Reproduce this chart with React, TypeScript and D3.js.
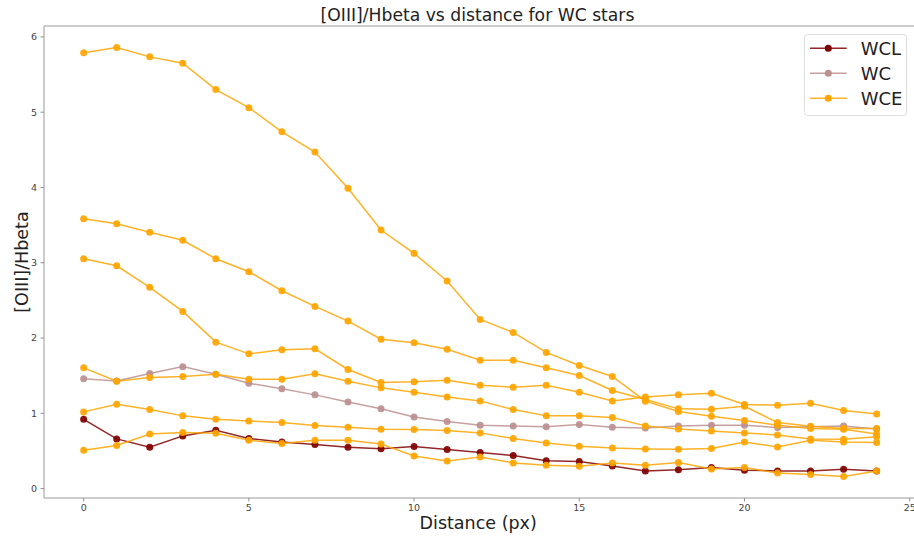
import React from "react";
import * as d3 from "d3";

const distance = [0, 1, 2, 3, 4, 5, 6, 7, 8, 9, 10, 11, 12, 13, 14, 15, 16, 17, 18, 19, 20, 21, 22, 23, 24];

const wcl = [0.92, 0.66, 0.55, 0.70, 0.775, 0.665, 0.62, 0.585, 0.55, 0.53, 0.56, 0.52, 0.48, 0.44, 0.37, 0.36, 0.30, 0.235, 0.25, 0.28, 0.245, 0.235, 0.235, 0.257, 0.235];
const wc = [1.46, 1.43, 1.53, 1.62, 1.52, 1.40, 1.325, 1.245, 1.15, 1.06, 0.95, 0.89, 0.84, 0.83, 0.82, 0.85, 0.815, 0.806, 0.833, 0.842, 0.842, 0.811, 0.82, 0.833, 0.79];

const wceA = [5.79, 5.86, 5.735, 5.65, 5.30, 5.06, 4.74, 4.47, 3.99, 3.435, 3.125, 2.757, 2.247, 2.074, 1.809, 1.636, 1.489, 1.161, 1.024, 0.961, 0.904, 0.842, 0.798, 0.789, 0.725];
const wceB = [3.585, 3.519, 3.404, 3.298, 3.053, 2.88, 2.628, 2.42, 2.225, 1.985, 1.936, 1.852, 1.706, 1.706, 1.604, 1.503, 1.303, 1.183, 1.059, 1.055, 1.094, 0.877, 0.828, 0.798, 0.798];
const wceC = [3.053, 2.96, 2.673, 2.354, 1.945, 1.79, 1.843, 1.857, 1.582, 1.41, 1.418, 1.44, 1.374, 1.347, 1.374, 1.281, 1.165, 1.218, 1.245, 1.267, 1.117, 1.108, 1.134, 1.037, 0.992];
const wceD = [1.604, 1.427, 1.476, 1.489, 1.52, 1.453, 1.453, 1.524, 1.427, 1.338, 1.281, 1.218, 1.165, 1.05, 0.966, 0.966, 0.944, 0.833, 0.793, 0.766, 0.74, 0.713, 0.66, 0.656, 0.69];
const wceE = [1.019, 1.121, 1.05, 0.966, 0.922, 0.899, 0.877, 0.838, 0.815, 0.789, 0.784, 0.771, 0.74, 0.665, 0.607, 0.563, 0.54, 0.527, 0.523, 0.532, 0.62, 0.553, 0.642, 0.62, 0.611];
const wceF = [0.509, 0.572, 0.726, 0.745, 0.735, 0.642, 0.598, 0.642, 0.642, 0.593, 0.434, 0.367, 0.42, 0.341, 0.31, 0.297, 0.341, 0.31, 0.346, 0.261, 0.279, 0.208, 0.186, 0.16, 0.235];

const xTicks = [0, 5, 10, 15, 20, 25];
const yTicks = [0, 1, 2, 3, 4, 5, 6];
const legendLabels = ["WCL", "WC", "WCE"];
const colors: Record<string, string> = { WCL: "#800000", WC: "#bc8f8f", WCE: "#ffa500" };

const series: { type: string; values: number[] }[] = [
  { type: "WCL", values: wcl },
  { type: "WC", values: wc },
  { type: "WCE", values: wceA },
  { type: "WCE", values: wceB },
  { type: "WCE", values: wceC },
  { type: "WCE", values: wceD },
  { type: "WCE", values: wceE },
  { type: "WCE", values: wceF },
];

const W = 914;
const H = 539;
const left = 44;
const right = 916.3;
const top = 26;
const bottom = 498;
const FONT = "DejaVu Sans, sans-serif";

export default function App() {
  const allVals = series.flatMap((s) => s.values);
  const [ymin, ymax] = d3.extent(allVals) as [number, number];
  const ypad = (ymax - ymin) * 0.05;
  const xpad = (24 - 0) * 0.05;
  const x = d3.scaleLinear().domain([0 - xpad, 24 + xpad]).range([left, right]);
  const y = d3.scaleLinear().domain([ymin - ypad, ymax + ypad]).range([bottom, top]);
  const line = d3
    .line<number>()
    .x((_, i) => x(distance[i]))
    .y((d) => y(d));

  return (
    <svg width={W} height={H} style={{ display: "block" }} fontFamily={FONT}>
      <style>{`body{margin:0}`}</style>
      <rect x={0} y={0} width={W} height={H} fill="#fff" />
      {/* spines */}
      <line x1={left} x2={left} y1={top} y2={bottom} stroke="#999" strokeWidth={1} />
      <line x1={left} x2={right} y1={bottom} y2={bottom} stroke="#999" strokeWidth={1} />
      <line x1={left} x2={right} y1={top} y2={top} stroke="#999" strokeWidth={1} />
      {/* x ticks */}
      {xTicks.map((t) => (
        <g key={"x" + t} transform={`translate(${x(t)},0)`}>
          <line y1={bottom} y2={bottom + 3.5} stroke="#777" strokeWidth={0.8} />
          <text y={bottom + 13} textAnchor="middle" fontSize={9.5} fill="#444">
            {t}
          </text>
        </g>
      ))}
      {yTicks.map((t) => (
        <g key={"y" + t} transform={`translate(0,${y(t)})`}>
          <line x1={left - 3.5} x2={left} stroke="#777" strokeWidth={0.8} />
          <text x={left - 7} dy="0.35em" textAnchor="end" fontSize={9.5} fill="#444">
            {t}
          </text>
        </g>
      ))}
      {/* series */}
      {series.map((s, k) => (
        <g key={k}>
          <path d={line(s.values) || ""} fill="none" stroke={colors[s.type]} strokeWidth={1.5} strokeOpacity={0.85} />
          {s.values.map((v, i) => (
            <circle key={i} cx={x(distance[i])} cy={y(v)} r={3.5} fill={colors[s.type]} fillOpacity={0.92} />
          ))}
        </g>
      ))}
      {/* title and labels */}
      <text x={477.5} y={21.3} textAnchor="middle" fontSize={17.2} fill="#222">
        [OIII]/Hbeta vs distance for WC stars
      </text>
      <text x={(left + right) / 2 - 2} y={529.3} textAnchor="middle" fontSize={17.5} fill="#222">
        Distance (px)
      </text>
      <text transform={`translate(28.3,${(top + bottom) / 2}) rotate(-90)`} textAnchor="middle" fontSize={17.5} fill="#222">
        [OIII]/Hbeta
      </text>
      {/* legend */}
      <g>
        <rect x={804.5} y={34.5} width={102} height={81} rx={3} fill="#fff" fillOpacity={0.8} stroke="#ddd" strokeWidth={1} />
        {legendLabels.map((lab, i) => {
          const cy = 48.3 + i * 25;
          return (
            <g key={lab}>
              <line x1={810} x2={846.7} y1={cy} y2={cy} stroke={colors[lab]} strokeWidth={1.5} strokeOpacity={0.85} />
              <circle cx={828.3} cy={cy} r={3.5} fill={colors[lab]} />
              <text x={860.7} y={cy + 6.7} fontSize={18} fill="#222">
                {lab}
              </text>
            </g>
          );
        })}
      </g>
    </svg>
  );
}
